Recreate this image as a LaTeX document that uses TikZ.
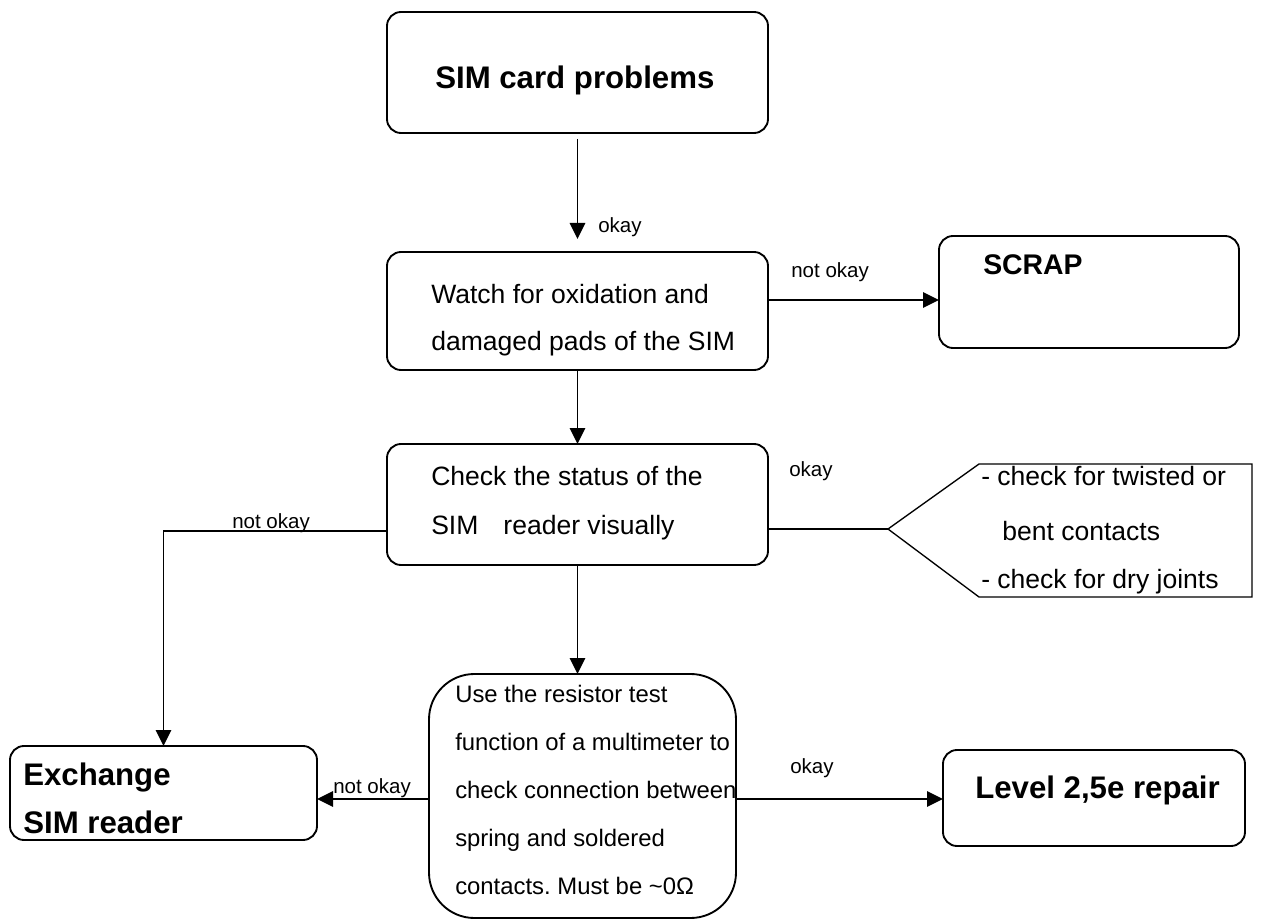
\documentclass[tikz,border=0pt]{standalone}
\usepackage{fontspec}
\setmainfont{Liberation Sans}
\usetikzlibrary{arrows.meta,calc}
\frenchspacing
\begin{document}
\begin{tikzpicture}[x=0.75pt,y=-0.75pt,
  box/.style={draw, line width=1.4pt, rounded corners=10.5pt, inner sep=0pt, outer sep=0pt},
  arr/.style={line width=1.4pt, -{Triangle[length=12pt,width=11.5pt]}},
  ln/.style={line width=1.4pt},
  body/.style={anchor=base west, inner sep=0pt, font=\fontsize{19.9pt}{24pt}\selectfont},
  rtext/.style={anchor=base west, inner sep=0pt, font=\fontsize{17.9pt}{22pt}\selectfont},
  small/.style={anchor=base west, inner sep=0pt, font=\fontsize{15.4pt}{18pt}\selectfont},
  bold/.style={anchor=base west, inner sep=0pt, font=\fontsize{23.4pt}{28pt}\selectfont\bfseries}]
\useasboundingbox (0,0) rectangle (1261,920);

% boxes
\node[box, minimum width=285.75pt, minimum height=90.75pt] (sim) at (577.5,72.5) {};
\node[box, minimum width=285.75pt, minimum height=88.5pt] (watch) at (577.5,311) {};
\node[box, minimum width=225pt, minimum height=84pt] (scrap) at (1089,292) {};
\node[box, minimum width=285.75pt, minimum height=90.75pt] (check) at (577.5,504.5) {};
\node[box, rounded corners=34pt, minimum width=230.25pt, minimum height=183pt] (res) at (582.5,796) {};
\node[box, minimum width=230.25pt, minimum height=70.5pt] (exch) at (163.5,793) {};
\node[box, minimum width=226.5pt, minimum height=72pt] (level) at (1094,798) {};

% callout
\coordinate (tip) at (888,529);
\draw[line width=1pt] (tip) -- (979,464) -- (1252,464) -- (1252,597) -- (979,597) -- cycle;

% connectors
\draw[arr, shorten <=4.5pt, shorten >=9.75pt] (sim.south) -- (watch.north);
\draw[arr] ($(watch.east)+(0,-11)$) -- ($(scrap.west)+(0,8)$);
\draw[arr] (watch.south) -- (check.north);
\draw[arr] ($(check.west)+(0,26.5)$) -| (exch.north);
\draw[ln] ($(check.east)+(0,24.5)$) -- (tip);
\draw[arr] (check.south) -- (check.south |- res.north);
\draw[arr] ($(res.west)+(0,3)$) -- ($(exch.east)+(0,6)$);
\draw[arr] ($(res.east)+(0,3)$) -- ($(level.west)+(0,1)$);

% texts
\node[bold] (t1) at (435,89) {SIM card problems};
\node[small] (l1) at (598,233) {okay};
\node[body] (w1) at (431,303) {Watch for oxidation and};
\node[body] (w2) at (431,350) {damaged pads of the SIM};
\node[small] (l2) at (791,277) {not okay};
\node[bold, font=\fontsize{21.3pt}{26pt}\selectfont\bfseries] (t2) at (983,275) {SCRAP};
\node[body] (c1) at (431,485) {Check the status of the};
\node[body] (c2) at (431,534) {SIM\hspace{18.75pt}reader visually};
\node[small] (l3) at (232,528) {not okay};
\node[small] (l4) at (789,476) {okay};
\node[body] (k1) at (981,485) {- check for twisted or};
\node[body] (k2) at (1002,540) {bent contacts};
\node[body] (k3) at (981,588) {- check for dry joints};
\node[rtext] (r1) at (455,702) {Use the resistor test};
\node[rtext] (r2) at (455,750) {function of a multimeter to};
\node[rtext] (r3) at (455,798) {check connection between};
\node[rtext] (r4) at (455,846) {spring and soldered};
\node[rtext] (r5) at (455,894) {contacts. Must be \textasciitilde0Ω};
\node[bold] (e1) at (23,785) {Exchange};
\node[bold] (e2) at (23,833) {SIM reader};
\node[small] (l5) at (333,793) {not okay};
\node[small] (l6) at (790,773) {okay};
\node[bold] (t3) at (975,798) {Level 2,5e repair};
\end{tikzpicture}
\end{document}
